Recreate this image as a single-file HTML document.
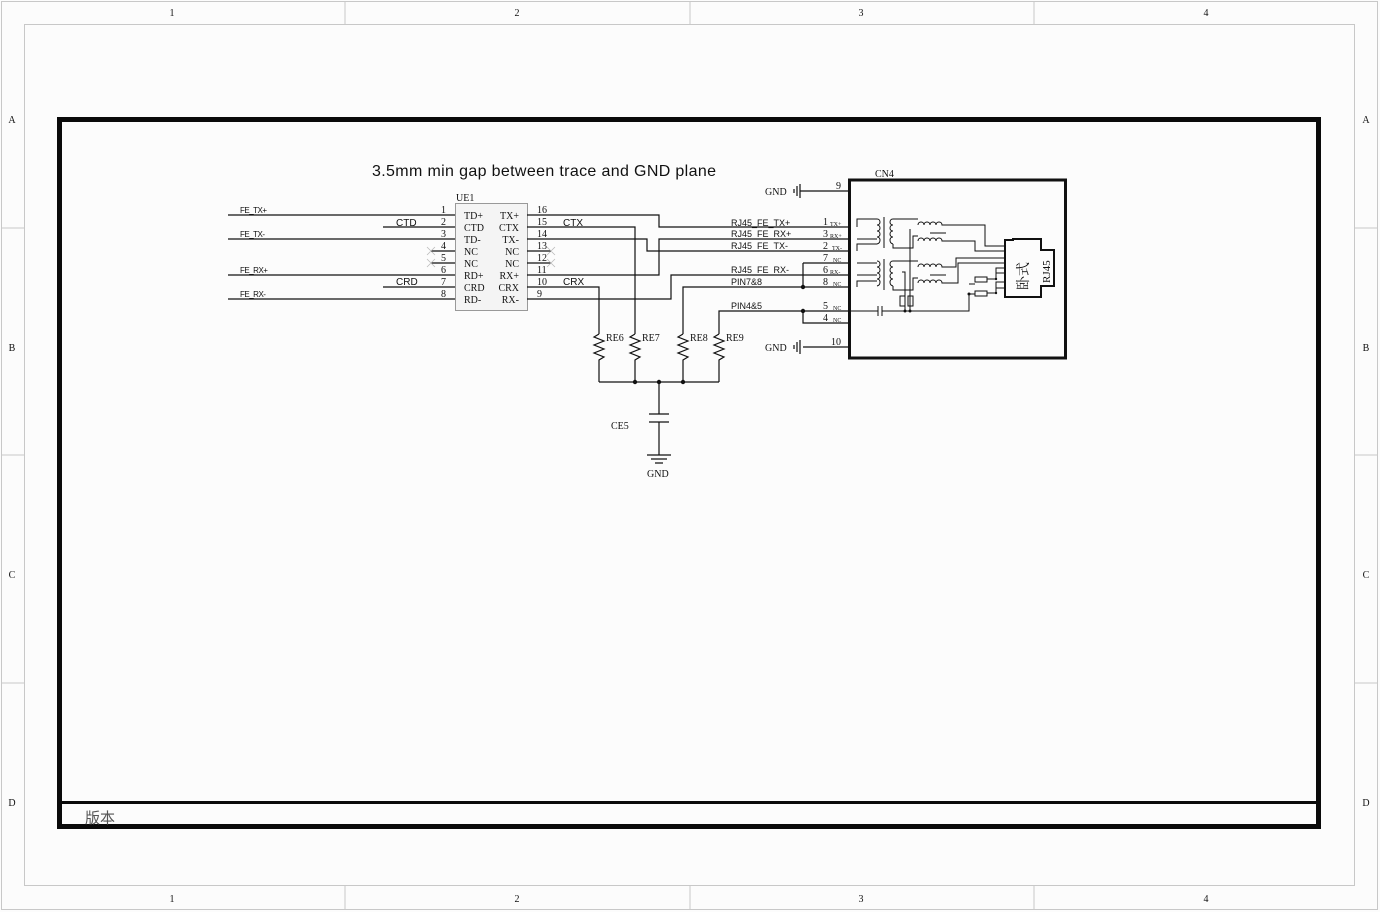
<!DOCTYPE html>
<html><head><meta charset="utf-8"><style>
html,body{margin:0;padding:0;background:#fcfcfc;}
svg{display:block;}
text{font-family:"Liberation Serif",serif;fill:#111;}
text.s,g.s text{font-family:"Liberation Sans",sans-serif;}
</style></head><body>
<svg width="1380" height="912" viewBox="0 0 1380 912" xmlns="http://www.w3.org/2000/svg">
<rect x="0" y="0" width="1380" height="912" fill="#fcfcfc"/>
<g fill="none" stroke="#c8c8c8" stroke-width="1">
<rect x="1.5" y="1.5" width="1376" height="908"/>
<rect x="24.5" y="24.5" width="1330" height="861"/>
<path d="M345 1V24M690 1V24M1034 1V24M345 886V909M690 886V909M1034 886V909M1 228H24M1 455H24M1 683H24M1355 228H1378M1355 455H1378M1355 683H1378"/>
</g>
<g font-size="10" text-anchor="middle">
<text x="172" y="16">1</text><text x="517" y="16">2</text><text x="861" y="16">3</text><text x="1206" y="16">4</text>
<text x="172" y="902">1</text><text x="517" y="902">2</text><text x="861" y="902">3</text><text x="1206" y="902">4</text>
<text x="12" y="123">A</text><text x="12" y="351">B</text><text x="12" y="578">C</text><text x="12" y="806">D</text>
<text x="1366" y="123">A</text><text x="1366" y="351">B</text><text x="1366" y="578">C</text><text x="1366" y="806">D</text>
</g>
<rect x="59.5" y="119.5" width="1259" height="707" fill="none" stroke="#0a0a0a" stroke-width="5"/>
<line x1="60" y1="802.5" x2="1318" y2="802.5" stroke="#0a0a0a" stroke-width="3"/>
<text x="85" y="823" font-size="15" style="font-family:'Liberation Sans','Noto Sans CJK SC',sans-serif;fill:#555">版本</text>

<text x="372" y="176" font-size="16" class="s" textLength="344">3.5mm min gap between trace and GND plane</text>

<!-- UE1 -->
<rect x="455.5" y="203.5" width="72" height="107" fill="#f4f4f4" stroke="#999"/>
<text x="456" y="201" font-size="10">UE1</text>
<g font-size="10">
<text x="464" y="219">TD+</text><text x="464" y="231">CTD</text><text x="464" y="243">TD-</text><text x="464" y="255">NC</text><text x="464" y="267">NC</text><text x="464" y="279">RD+</text><text x="464" y="291">CRD</text><text x="464" y="303">RD-</text>
</g>
<g font-size="10" text-anchor="end">
<text x="519" y="219">TX+</text><text x="519" y="231">CTX</text><text x="519" y="243">TX-</text><text x="519" y="255">NC</text><text x="519" y="267">NC</text><text x="519" y="279">RX+</text><text x="519" y="291">CRX</text><text x="519" y="303">RX-</text>
</g>
<g font-size="10" text-anchor="end">
<text x="446" y="213">1</text><text x="446" y="225">2</text><text x="446" y="237">3</text><text x="446" y="249">4</text><text x="446" y="261">5</text><text x="446" y="273">6</text><text x="446" y="285">7</text><text x="446" y="297">8</text>
</g>
<g font-size="10">
<text x="537" y="213">16</text><text x="537" y="225">15</text><text x="537" y="237">14</text><text x="537" y="249">13</text><text x="537" y="261">12</text><text x="537" y="273">11</text><text x="537" y="285">10</text><text x="537" y="297">9</text>
</g>
<g font-size="8" class="s" letter-spacing="-0.5"><text x="240" y="213">FE_TX+</text><text x="240" y="237">FE_TX-</text><text x="240" y="273">FE_RX+</text><text x="240" y="297">FE_RX-</text></g>
<g font-size="10" class="s"><text x="396" y="226">CTD</text><text x="396" y="285">CRD</text><text x="563" y="226">CTX</text><text x="563" y="285">CRX</text></g>

<g fill="none" stroke="#111" stroke-width="1.2">
<path d="M228 215H455M383 227H455M228 239H455M431 251H455M431 263H455M228 275H455M383 287H455M228 299H455"/>
<path d="M527 251H551M527 263H551"/>
<path d="M527 215H659V227H849"/>
<path d="M527 227H635V334"/>
<path d="M527 239H647V251H849"/>
<path d="M527 275H659V239H849"/>
<path d="M527 299H671V275H849"/>
<path d="M527 287H599V334"/>
<path d="M683 334V287H849"/>
<path d="M719 334V311H849"/>
<path d="M803 263H849M803 263V287M803 311V323H849M803 347H849M800 191H849"/>
<path d="M599 334l-5 3 10 4-10 4 10 4-10 4 10 4-5 3V382"/>
<path d="M635 334l-5 3 10 4-10 4 10 4-10 4 10 4-5 3V382"/>
<path d="M683 334l-5 3 10 4-10 4 10 4-10 4 10 4-5 3V382"/>
<path d="M719 334l-5 3 10 4-10 4 10 4-10 4 10 4-5 3V382"/>
<path d="M599 382H719M659 382V414M649 414H669M649 422H669M659 422V455M647 455H671M651 459H667M655 463H663"/>
<path d="M800 184V198M797 186V196M794 189V193M800 340V354M797 342V352M794 345V349"/>
</g>
<g stroke="#bbb" stroke-width="0.8"><path d="M427 247l8 8M427 255l8-8M427 259l8 8M427 267l8-8M547 247l8 8M547 255l8-8M547 259l8 8M547 267l8-8"/></g>
<g fill="#111"><circle cx="635" cy="382" r="2.2"/><circle cx="659" cy="382" r="2.2"/><circle cx="683" cy="382" r="2.2"/><circle cx="803" cy="287" r="2.2"/><circle cx="803" cy="311" r="2.2"/></g>
<g font-size="10"><text x="606" y="341">RE6</text><text x="642" y="341">RE7</text><text x="690" y="341">RE8</text><text x="726" y="341">RE9</text><text x="611" y="429">CE5</text><text x="647" y="477">GND</text>
<text x="765" y="195">GND</text><text x="765" y="351">GND</text><text x="875" y="177">CN4</text></g>
<g font-size="9" class="s"><text x="731" y="226">RJ45_FE_TX+</text><text x="731" y="237">RJ45_FE_RX+</text><text x="731" y="249">RJ45_FE_TX-</text><text x="731" y="273">RJ45_FE_RX-</text><text x="731" y="285">PIN7&amp;8</text><text x="731" y="309">PIN4&amp;5</text></g>
<g font-size="10"><text x="836" y="189">9</text><text x="823" y="225">1</text><text x="823" y="237">3</text><text x="823" y="249">2</text><text x="823" y="261">7</text><text x="823" y="273">6</text><text x="823" y="285">8</text><text x="823" y="309">5</text><text x="823" y="321">4</text><text x="831" y="345">10</text></g>
<g font-size="6"><text x="830" y="226">TX+</text><text x="830" y="238">RX+</text><text x="832" y="250">TX-</text><text x="833" y="262">NC</text><text x="830" y="274">RX-</text><text x="833" y="286">NC</text><text x="833" y="310">NC</text><text x="833" y="322">NC</text></g>

<rect x="849.5" y="180" width="216" height="178" fill="none" stroke="#111" stroke-width="3"/>
<g fill="none" stroke="#111" stroke-width="1">
<path d="M857 227V219H877M857 239H877M857 251V244H877"/>
<path d="M877 219c4 0 4 6 0 6c4 0 4 6 0 6c4 0 4 6 0 6c4 0 4 6 0 7"/>
<path d="M857 263H877M857 275H877M857 287V281H877"/>
<path d="M877 261c4 0 4 6 0 6c4 0 4 6 0 6c4 0 4 6 0 6c4 0 4 6 0 7"/>
<path d="M884 217V248M884 259V290"/>
<path d="M893 219c-4 0-4 6 0 6c-4 0-4 6 0 6c-4 0-4 6 0 6c-4 0-4 6 0 7"/>
<path d="M893 261c-4 0-4 6 0 6c-4 0-4 6 0 6c-4 0-4 6 0 6c-4 0-4 6 0 7"/>
<path d="M893 219H918M893 244V248H913V236H918M893 261H918M893 286V290H913V278H918"/>
<path d="M910 229V311M902 272H905V311"/>
<path d="M918 225c0-4 6-4 6 0c0-4 6-4 6 0c0-4 6-4 6 0c0-4 6-4 6 0H985V246H1005"/>
<path d="M918 241c0-4 6-4 6 0c0-4 6-4 6 0c0-4 6-4 6 0c0-4 6-4 6 0H975V251H1005"/>
<path d="M918 267c0-4 6-4 6 0c0-4 6-4 6 0c0-4 6-4 6 0c0-4 6-4 6 0H956V258H1005"/>
<path d="M918 283c0-4 6-4 6 0c0-4 6-4 6 0c0-4 6-4 6 0c0-4 6-4 6 0H958V263H1005"/>
<path d="M930 233H946M930 275H946"/>
<path d="M803 311H878M882 311H969V294H975M969 284H975"/>
<path d="M878 306V316M882 306V316"/>
<rect x="900" y="296" width="5" height="10"/><rect x="908" y="296" width="5" height="10"/>
<rect x="975" y="277" width="12" height="5"/><rect x="975" y="291" width="12" height="5"/>
<path d="M987 279H996V268H1005M996 279V273H1005M987 293H996V282H1005M996 288H1005"/>
<path d="M1005 240H1013V239H1041V250H1054V286H1041V297H1005Z" stroke-width="2"/>
</g>
<g fill="#111"><circle cx="905" cy="311" r="1.5"/><circle cx="910" cy="311" r="1.5"/><circle cx="969" cy="294" r="1.5"/><circle cx="996" cy="279" r="1.2"/><circle cx="996" cy="293" r="1.2"/></g>
<text x="0" y="0" font-size="11" transform="translate(1050,283) rotate(-90)">RJ45</text>
<text x="0" y="0" font-size="14" transform="translate(1028,290) rotate(-90)" style="font-family:'Liberation Serif','Noto Serif CJK SC',serif">卧式</text>
</svg>
</body></html>
